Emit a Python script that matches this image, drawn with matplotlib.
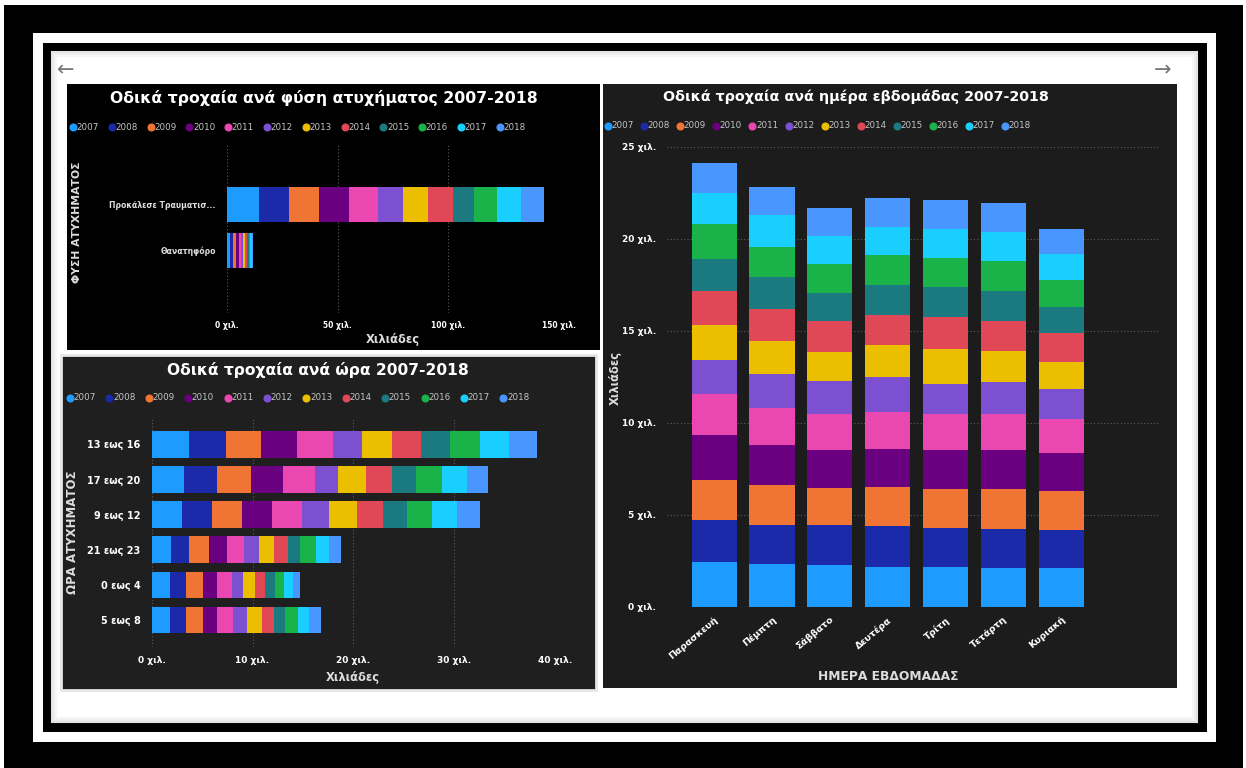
import matplotlib
matplotlib.use("Agg")
import matplotlib.pyplot as plt
from matplotlib.patches import Rectangle
from matplotlib.lines import Line2D
import numpy as np

W, H = 1246, 768

years = [2007, 2008, 2009, 2010, 2011, 2012, 2013, 2014, 2015, 2016, 2017, 2018]
colors = ["#1E9BFF", "#1A2AA8", "#F07535", "#6A0080", "#EA47B0", "#7C50D0",
          "#ECBE00", "#E04858", "#1B7A80", "#1AB34A", "#18CFFF", "#4A96FF"]

# accidents by nature (thousands), one row per year
nature_cats = ["Προκάλεσε Τραυματισ...", "Θανατηφόρο"]
nature_vals = [
    [14.4, 1.45], [13.5, 1.35], [13.5, 1.25], [13.5, 1.15], [13.1, 1.05], [11.3, 0.95],
    [11.3, 0.9], [11.3, 0.85], [9.9, 0.8], [10.4, 0.75], [10.8, 0.72], [10.4, 0.68],
]

# accidents by hour (thousands), one row per year
hour_cats = ["13 εως 16", "17 εως 20", "9 εως 12", "21 εως 23", "0 εως 4", "5 εως 8"]
hour_vals = [
    [3.74, 3.21, 2.98, 1.92, 1.82, 1.82],
    [3.60, 3.24, 2.97, 1.82, 1.58, 1.58],
    [3.54, 3.37, 2.98, 1.95, 1.66, 1.66],
    [3.57, 3.17, 2.97, 1.75, 1.45, 1.45],
    [3.50, 3.21, 2.98, 1.72, 1.42, 1.59],
    [2.91, 2.31, 2.74, 1.45, 1.16, 1.32],
    [3.01, 2.75, 2.71, 1.52, 1.16, 1.49],
    [2.84, 2.61, 2.58, 1.36, 0.99, 1.26],
    [2.88, 2.35, 2.38, 1.22, 0.99, 1.05],
    [2.97, 2.54, 2.48, 1.59, 0.89, 1.26],
    [2.91, 2.48, 2.48, 1.32, 0.93, 1.16],
    [2.71, 2.15, 2.31, 1.16, 0.66, 1.15],
]

# accidents by weekday (thousands), one row per year
day_cats = ["Παρασκευή", "Πέμπτη", "Σάββατο", "Δευτέρα", "Τρίτη", "Τετάρτη", "Κυριακή"]
day_vals = [
    [2.45, 2.31, 2.27, 2.18, 2.18, 2.13, 2.13],
    [2.24, 2.11, 2.15, 2.18, 2.10, 2.11, 2.05],
    [2.22, 2.22, 2.04, 2.15, 2.14, 2.13, 2.13],
    [2.40, 2.14, 2.05, 2.08, 2.07, 2.12, 2.06],
    [2.24, 2.04, 1.99, 2.01, 2.01, 2.01, 1.82],
    [1.85, 1.82, 1.77, 1.89, 1.59, 1.69, 1.63],
    [1.93, 1.78, 1.59, 1.75, 1.91, 1.72, 1.49],
    [1.85, 1.77, 1.66, 1.62, 1.73, 1.64, 1.55],
    [1.73, 1.73, 1.54, 1.65, 1.64, 1.63, 1.42],
    [1.88, 1.63, 1.54, 1.58, 1.60, 1.61, 1.45],
    [1.67, 1.73, 1.55, 1.55, 1.58, 1.58, 1.42],
    [1.64, 1.54, 1.53, 1.55, 1.55, 1.58, 1.40],
]

plt.rcParams["font.family"] = ["DejaVu Sans"]

fig = plt.figure(figsize=(W / 100, H / 100), dpi=100)
fig.patch.set_facecolor("white")


def box(x0, y0, x1, y1):
    return [x0 / W, 1 - y1 / H, (x1 - x0) / W, (y1 - y0) / H]


def rect(x0, y0, x1, y1, fc, z, ec="none", lw=0):
    fig.add_artist(Rectangle((x0 / W, 1 - y1 / H), (x1 - x0) / W, (y1 - y0) / H,
                             transform=fig.transFigure, facecolor=fc, edgecolor=ec,
                             linewidth=lw, zorder=z))


def ftext(x, y, s, **kw):
    fig.text(x / W, 1 - y / H, s, **kw)


def legend_row(x0, step, y):
    for i, (yr, c) in enumerate(zip(years, colors)):
        fig.add_artist(Line2D([(x0 + i * step) / W], [1 - y / H], marker="o", ms=4.8,
                              color=c, lw=0, transform=fig.transFigure, zorder=5))
        ftext(x0 + i * step + 3.5, y, str(yr), color="#c4c4c4", fontsize=6.3,
              va="center", ha="left", zorder=5)


# frame
rect(4, 5, 1243, 768, "black", -20)
rect(33, 33, 1216, 742, "white", -19)
rect(43, 43, 1207, 732, "black", -18)
rect(52, 52, 1197, 722, "white", -17)
for k, g in enumerate(["#e4e4e4", "#eeeeee", "#f6f6f6"]):
    rect(52 + 2 * k, 52 + 2 * k, 1197 - 2 * k, 722 - 2 * k, "none", -16, ec=g, lw=1.5)
ftext(66, 70, "←", color="#777777", fontsize=15, ha="center", va="center")
ftext(1163, 70, "→", color="#777777", fontsize=15, ha="center", va="center")

# panels
rect(67, 84, 600, 350, "black", -10)
rect(61, 355, 596, 690, "#1f1f1f", -10, ec="#e6e6e6", lw=2)
rect(603, 84, 1177, 688, "#1c1c1c", -10)

grid_kw = dict(color="#5a5a5a", linestyle=(0, (1, 2)), linewidth=0.8)


def style_ax(ax):
    ax.set_facecolor("none")
    for s in ax.spines.values():
        s.set_visible(False)
    ax.tick_params(length=0, colors="white")
    ax.set_axisbelow(True)


# ---- top-left: by nature
ax1 = fig.add_axes(box(227, 145, 559, 313))
style_ax(ax1)
left = np.zeros(len(nature_cats))
for row, c in zip(nature_vals, colors):
    ax1.barh(range(len(nature_cats)), row, left=left, height=0.77, color=c)
    left += np.array(row)
ax1.set_xlim(0, 150)
ax1.set_ylim(2.36, -1.29)
ax1.set_xticks([0, 50, 100, 150])
ax1.set_xticklabels(["0 χιλ.", "50 χιλ.", "100 χιλ.", "150 χιλ."],
                    fontsize=5.5, fontweight="bold", color="white")
ax1.set_yticks(range(len(nature_cats)))
ax1.set_yticklabels(nature_cats, fontsize=5.6, fontweight="bold", color="#dddddd")
ax1.tick_params(axis="x", pad=6)
ax1.tick_params(axis="y", pad=8)
ax1.xaxis.grid(True, **grid_kw)
ftext(324, 98, "Οδικά τροχαία ανά φύση ατυχήματος 2007-2018", color="white",
      fontsize=11.3, fontweight="bold", ha="center", va="center")
legend_row(73, 38.8, 127)
ftext(393, 339, "Χιλιάδες", color="#dddddd", fontsize=8.3, fontweight="bold",
      ha="center", va="center")
ftext(77, 222, "ΦΥΣΗ ΑΤΥΧΗΜΑΤΟΣ", color="#dddddd", fontsize=7.8, fontweight="bold",
      ha="center", va="center", rotation=90)

# ---- bottom-left: by hour
ax2 = fig.add_axes(box(151.7, 416.7, 555, 646.7))
style_ax(ax2)
left = np.zeros(len(hour_cats))
for row, c in zip(hour_vals, colors):
    ax2.barh(range(len(hour_cats)), row, left=left, height=0.76, color=c)
    left += np.array(row)
ax2.set_xlim(0, 40)
ax2.set_ylim(5.76, -0.79)
ax2.set_xticks([0, 10, 20, 30, 40])
ax2.set_xticklabels(["0 χιλ.", "10 χιλ.", "20 χιλ.", "30 χιλ.", "40 χιλ."],
                    fontsize=6.5, fontweight="bold", color="white")
ax2.set_yticks(range(len(hour_cats)))
ax2.set_yticklabels(hour_cats, fontsize=7, fontweight="bold", color="white")
ax2.tick_params(axis="x", pad=7)
ax2.tick_params(axis="y", pad=8)
ax2.xaxis.grid(True, **grid_kw)
ftext(318, 370, "Οδικά τροχαία ανά ώρα 2007-2018", color="white",
      fontsize=11.2, fontweight="bold", ha="center", va="center")
legend_row(70, 39.4, 398)
ftext(353, 678, "Χιλιάδες", color="#dddddd", fontsize=8.3, fontweight="bold",
      ha="center", va="center")
ftext(72, 532, "ΩΡΑ ΑΤΥΧΗΜΑΤΟΣ", color="#dddddd", fontsize=8.5, fontweight="bold",
      ha="center", va="center", rotation=90)

# ---- right: by weekday
ax3 = fig.add_axes(box(667, 146.7, 1160, 606.7))
style_ax(ax3)
bottom = np.zeros(len(day_cats))
for row, c in zip(day_vals, colors):
    ax3.bar(range(len(day_cats)), row, bottom=bottom, width=0.78, color=c)
    bottom += np.array(row)
ax3.set_xlim(-0.816, 6 + (1160 - 1061.3) / 57.85)
ax3.set_ylim(0, 25)
ax3.set_yticks([0, 5, 10, 15, 20, 25])
ax3.set_yticklabels(["0 χιλ.", "5 χιλ.", "10 χιλ.", "15 χιλ.", "20 χιλ.", "25 χιλ."],
                    fontsize=6.5, fontweight="bold", color="white")
ax3.set_xticks(range(len(day_cats)))
ax3.set_xticklabels(day_cats, fontsize=6.8, fontweight="bold", color="white",
                    rotation=40, ha="right", rotation_mode="anchor")
ax3.tick_params(axis="y", pad=8)
ax3.tick_params(axis="x", pad=6)
ax3.yaxis.grid(True, **grid_kw)
ftext(856, 97, "Οδικά τροχαία ανά ημέρα εβδομάδας 2007-2018", color="white",
      fontsize=10.3, fontweight="bold", ha="center", va="center")
legend_row(608, 36.1, 126)
ftext(888, 677, "ΗΜΕΡΑ ΕΒΔΟΜΑΔΑΣ", color="#dddddd", fontsize=8.8, fontweight="bold",
      ha="center", va="center")
ftext(615, 378, "Χιλιάδες", color="#dddddd", fontsize=8.3, fontweight="bold",
      ha="center", va="center", rotation=90)

fig.savefig("out.png", dpi=100, facecolor=fig.get_facecolor())
